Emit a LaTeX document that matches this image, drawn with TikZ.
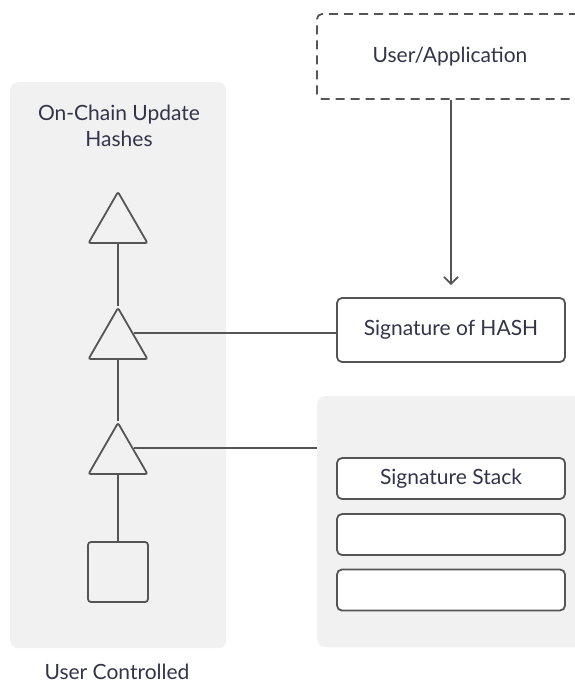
\documentclass[tikz,border=0pt]{standalone}
\usepackage{fontspec}
\setmainfont{Lato}
\usetikzlibrary{arrows.meta,shapes.geometric,positioning}
\definecolor{ink}{HTML}{33334A}
\definecolor{edge}{HTML}{555555}
\definecolor{panel}{HTML}{F1F1F1}
\tikzset{panelbg/.style = {fill=panel, rounded corners=8, inner sep=0, anchor=north west}}
\tikzset{hashtri/.style = {draw=edge, line width=1.8, fill=panel, regular polygon, regular polygon sides=3,
                           minimum size=68, inner sep=0, rounded corners=2}}
\tikzset{sigbox/.style = {draw=edge, line width=1.8, fill=white, rounded corners=5, minimum width=228,
                          inner sep=0, text=ink, font=\fontsize{21}{26}\selectfont}}
\tikzset{link/.style = {draw=edge, line width=1.8}}
\tikzset{label/.style = {text=ink, font=\fontsize{21}{26}\selectfont, align=center}}

\begin{document}
\begin{tikzpicture}[x=1pt, y=-1pt]
    \useasboundingbox (0, 0) rectangle (575, 683);
    \node [panelbg, minimum width=216, minimum height=566] (hashbg) at (10, 82) {};
    \node [panelbg, minimum width=268, minimum height=251] (stackbg) at (317, 396) {};
    \node [label] (hashtitle) at (119, 126) {On-Chain Update\\Hashes};
    \node [label] (owner) at (117, 672) {User Controlled};
    % hash chain
    \node [hashtri] (tri1) at (118, 226) {};
    \node [hashtri] (tri2) at (118, 342) {};
    \node [hashtri] (tri3) at (118, 457) {};
    \node [draw=edge, line width=1.8, rounded corners=3, minimum size=60, inner sep=0] (root) at (118, 572) {};
    \draw [link] (tri1.south) -- (tri2.north);
    \draw [link] (tri2.south) -- (tri3.north);
    \draw [link] (tri3.south) -- (root.north);
    % signer side
    \node [sigbox, minimum width=266, minimum height=85, dashed, dash pattern=on 9 off 6, fill=none] (user) at (450, 56.5) {User/Application};
    \node [sigbox, minimum height=64] (sig) at (451, 330) {Signature of HASH};
    \node [sigbox, minimum height=41] (stack1) at (451, 478.5) {Signature Stack};
    \node [sigbox, minimum height=41] (stack2) at (451, 534.5) {};
    \node [sigbox, minimum height=41] (stack3) at (451, 590) {};
    \draw [link, -{Straight Barb[length=7, width=14]}, shorten >= 12] (user.south -| sig.north) -- (sig.north);
    \draw [link] (tri2.side 3) -- (tri2.side 3 -| sig.west);
    \draw [link] (tri3.side 3) -- (tri3.side 3 -| stackbg.west);
\end{tikzpicture}
\end{document}
